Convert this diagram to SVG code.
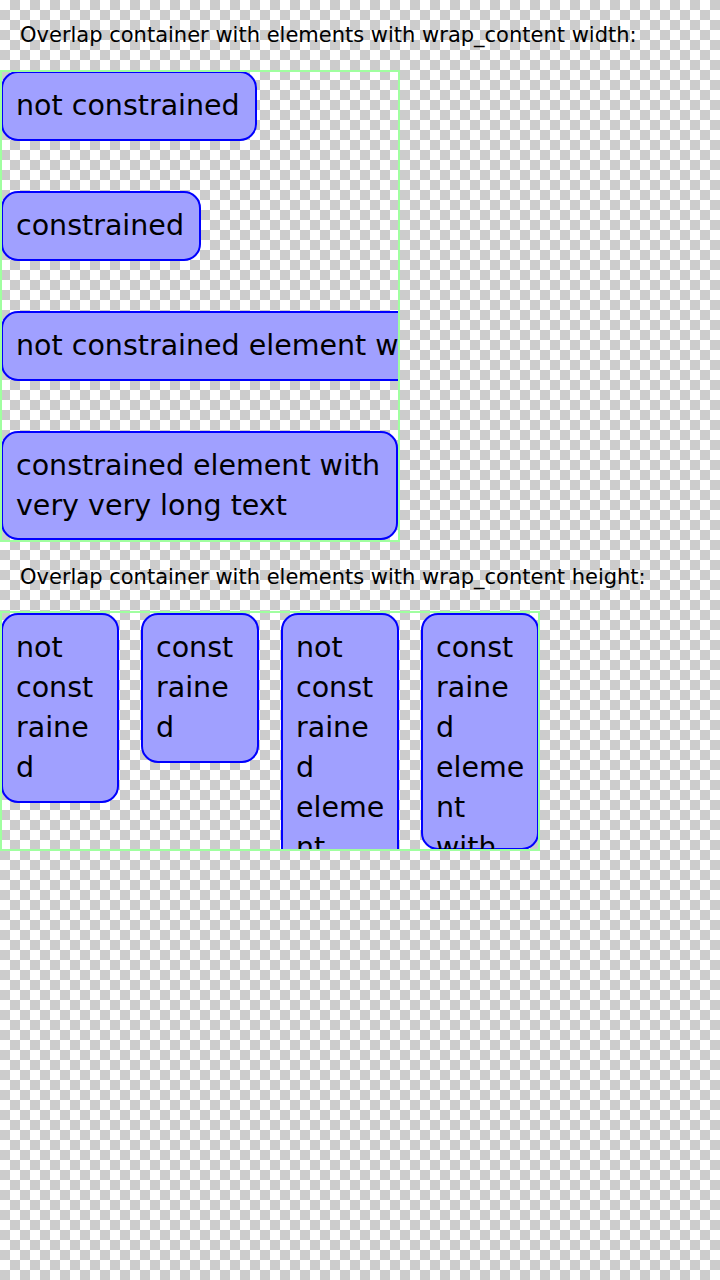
<svg xmlns="http://www.w3.org/2000/svg" width="720" height="1280" viewBox="0 0 720 1280">
  <defs>
    <pattern id="cb" width="20" height="20" patternUnits="userSpaceOnUse">
      <rect width="20" height="20" fill="#ffffff"/>
      <rect x="10" y="0" width="10" height="10" fill="#cccccc"/>
      <rect x="0" y="10" width="10" height="10" fill="#cccccc"/>
    </pattern>
    <clipPath id="clip1"><rect x="1" y="71" width="397" height="470"/></clipPath>
    <clipPath id="clip2"><rect x="1" y="612" width="538" height="238"/></clipPath>
    <style>
      .title { font-family: "DejaVu Sans", sans-serif; font-size: 21px; fill: #000; }
      .txt { font-family: "DejaVu Sans", sans-serif; font-size: 28.5px; fill: #000; }
      .node { fill: #a0a0ff; stroke: #0000ff; stroke-width: 2; }
      .cont { fill: none; stroke: #a0ffa0; stroke-width: 2; }
    </style>
  </defs>
  <rect width="720" height="1280" fill="url(#cb)"/>

  <text class="title" x="20" y="42">Overlap container with elements with wrap_content width:</text>

  <g id="container1">
    <g clip-path="url(#clip1)">
      <g id="node1">
        <rect class="node" x="2" y="72" width="254" height="68" rx="16"/>
        <text class="txt" x="16" y="115">not constrained</text>
      </g>
      <g id="node2">
        <rect class="node" x="2" y="192" width="198" height="68" rx="16"/>
        <text class="txt" x="16" y="235">constrained</text>
      </g>
      <g id="node3">
        <rect class="node" x="2" y="312" width="430" height="68" rx="16"/>
        <text class="txt" x="16" y="355">not constrained element w</text>
      </g>
      <g id="node4">
        <rect class="node" x="2" y="432" width="395" height="107" rx="16"/>
        <text class="txt" x="16" y="475">constrained element with</text>
        <text class="txt" x="16" y="515">very very long text</text>
      </g>
    </g>
    <rect class="cont" x="1" y="71" width="398" height="470"/>
  </g>

  <text class="title" x="20" y="584">Overlap container with elements with wrap_content height:</text>

  <g id="container2">
    <g clip-path="url(#clip2)">
      <g id="col1">
        <rect class="node" x="2" y="614" width="116" height="188" rx="16"/>
        <text class="txt" x="16" y="657">not</text>
        <text class="txt" x="16" y="697">const</text>
        <text class="txt" x="16" y="737">raine</text>
        <text class="txt" x="16" y="777">d</text>
      </g>
      <g id="col2">
        <rect class="node" x="142" y="614" width="116" height="148" rx="16"/>
        <text class="txt" x="156" y="657">const</text>
        <text class="txt" x="156" y="697">raine</text>
        <text class="txt" x="156" y="737">d</text>
      </g>
      <g id="col3">
        <rect class="node" x="282" y="614" width="116" height="300" rx="16"/>
        <text class="txt" x="296" y="657">not</text>
        <text class="txt" x="296" y="697">const</text>
        <text class="txt" x="296" y="737">raine</text>
        <text class="txt" x="296" y="777">d</text>
        <text class="txt" x="296" y="817">eleme</text>
        <text class="txt" x="296" y="857">nt</text>
      </g>
      <g id="col4">
        <rect class="node" x="422" y="614" width="116" height="235" rx="16"/>
        <text class="txt" x="436" y="657">const</text>
        <text class="txt" x="436" y="697">raine</text>
        <text class="txt" x="436" y="737">d</text>
        <text class="txt" x="436" y="777">eleme</text>
        <text class="txt" x="436" y="817">nt</text>
        <text class="txt" x="436" y="857">with</text>
      </g>
    </g>
    <rect class="cont" x="1" y="612" width="538" height="238"/>
  </g>
</svg>
